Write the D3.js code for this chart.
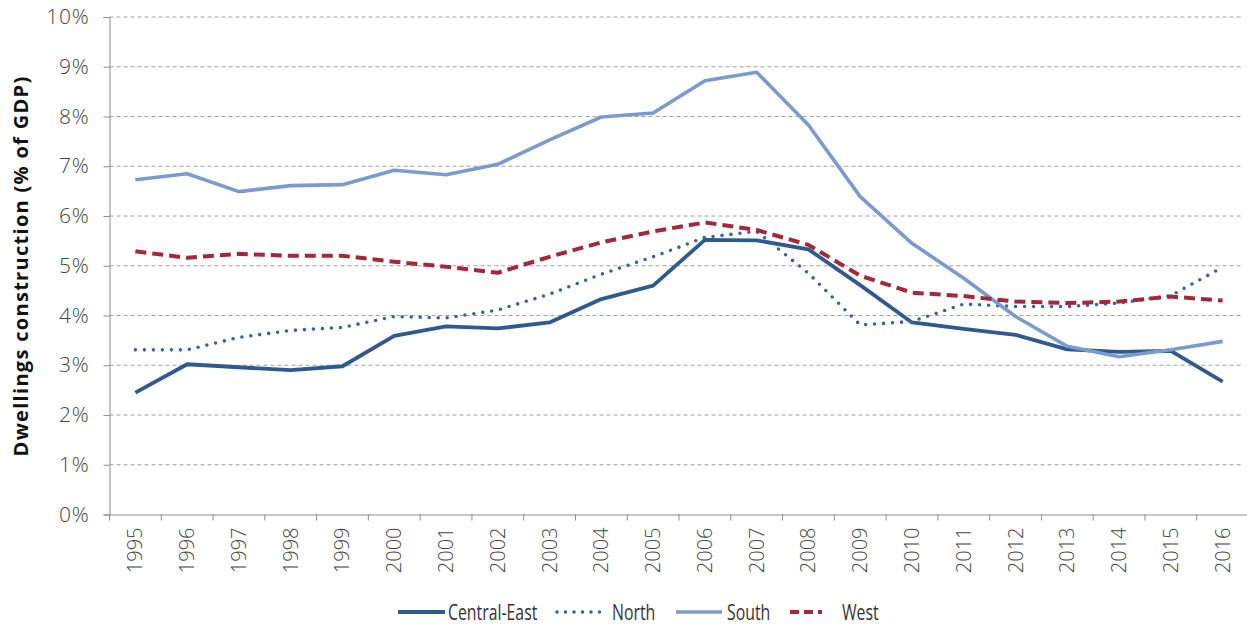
<!DOCTYPE html>
<html>
<head>
<meta charset="utf-8">
<script src="https://cdn.jsdelivr.net/npm/d3@7"></script>
<style>
  body { margin: 0; background: #fff; }
  text { font-family: "Open Sans", "Noto Sans", sans-serif; }
</style>
</head>
<body>
<div id="canvas"></div>
<script>
const years = ["1995","1996","1997","1998","1999","2000","2001","2002","2003","2004","2005",
               "2006","2007","2008","2009","2010","2011","2012","2013","2014","2015","2016"];

const centralEast = [2.45, 3.02, 2.96, 2.90, 2.98, 3.59, 3.78, 3.74, 3.86, 4.33, 4.60,
                     5.52, 5.51, 5.33, 4.61, 3.86, 3.73, 3.61, 3.32, 3.27, 3.29, 2.67];
const north       = [3.31, 3.31, 3.56, 3.70, 3.76, 3.98, 3.95, 4.11, 4.43, 4.83, 5.18,
                     5.57, 5.69, 4.85, 3.81, 3.88, 4.23, 4.18, 4.18, 4.25, 4.40, 4.97];
const south       = [6.73, 6.85, 6.49, 6.61, 6.63, 6.92, 6.83, 7.04, 7.53, 7.99, 8.07,
                     8.72, 8.89, 7.83, 6.39, 5.45, 4.75, 3.98, 3.38, 3.17, 3.31, 3.48];
const west        = [5.29, 5.16, 5.24, 5.20, 5.20, 5.08, 4.98, 4.86, 5.18, 5.47, 5.69,
                     5.87, 5.72, 5.42, 4.80, 4.46, 4.39, 4.28, 4.25, 4.28, 4.38, 4.30];

const yTicks = [0, 1, 2, 3, 4, 5, 6, 7, 8, 9, 10];

const series = [
  {name: "Central-East", values: centralEast, color: "#2f5a90", dash: null, width: 3.8, cap: "butt"},
  {name: "North", values: north, color: "#3a63a6", dash: "0,9", width: 3.6, cap: "round"},
  {name: "South", values: south, color: "#7b9bd0", dash: null, width: 3.6, cap: "butt"},
  {name: "West", values: west, color: "#a3283b", dash: "11,6", width: 4, cap: "butt"}
];

const width = 1247, height = 626;
const margin = {top: 17, left: 109.5, bottom: 111.5, right: 0};

const svg = d3.select("#canvas").append("svg")
  .attr("width", width).attr("height", height);

const x = d3.scaleBand().domain(years).range([margin.left, 1248.5]).padding(0);
const y = d3.scaleLinear().domain([0, 10]).range([height - margin.bottom, margin.top]);

// gridlines
svg.append("g").selectAll("line").data(yTicks.filter(d => d > 0)).enter().append("line")
  .attr("x1", margin.left).attr("x2", 1243)
  .attr("y1", d => y(d)).attr("y2", d => y(d))
  .attr("stroke", "#a0a0a0").attr("stroke-width", 1)
  .attr("stroke-dasharray", "4,3");

// y axis
const yAxis = svg.append("g")
  .attr("transform", `translate(${margin.left},0)`)
  .call(d3.axisLeft(y).tickValues(yTicks).tickFormat(d => d + "%").tickSize(6).tickPadding(14));
yAxis.select(".domain").attr("stroke", "#8c8c8c");
yAxis.selectAll(".tick line").attr("stroke", "#8c8c8c");
yAxis.selectAll(".tick text")
  .attr("font-size", 21).attr("fill", "#444").attr("font-weight", 300)
  .attr("letter-spacing", 0.8);

// x axis
const xAxis = svg.append("g")
  .attr("transform", `translate(0,${y(0)})`)
  .call(d3.axisBottom(x).tickSize(0).tickPadding(0));
xAxis.select(".domain").attr("stroke", "#8c8c8c");
xAxis.selectAll(".tick text")
  .attr("font-size", 20).attr("fill", "#444").attr("font-weight", 300)
  .attr("text-anchor", "end")
  .attr("transform", "rotate(-90)")
  .attr("x", -13).attr("y", 0).attr("dy", "0.35em");
svg.append("g").selectAll("line").data(years).enter().append("line")
  .attr("x1", d => x(d)).attr("x2", d => x(d))
  .attr("y1", y(0)).attr("y2", y(0) + 6)
  .attr("stroke", "#8c8c8c");

// lines
const line = d3.line()
  .x((d, i) => x(years[i]) + x.bandwidth() / 2)
  .y(d => y(d));

series.forEach(s => {
  svg.append("path")
    .datum(s.values)
    .attr("fill", "none")
    .attr("stroke", s.color)
    .attr("stroke-width", s.width)
    .attr("stroke-linecap", s.cap)
    .attr("stroke-linejoin", "round")
    .attr("stroke-dasharray", s.dash)
    .attr("d", line);
});

// y label
svg.append("text")
  .attr("transform", "rotate(-90)")
  .attr("x", -266).attr("y", 28)
  .attr("text-anchor", "middle")
  .attr("font-size", 20).attr("font-weight", "bold").attr("fill", "#111")
  .attr("letter-spacing", 1.3)
  .text("Dwellings construction (% of GDP)");

// legend (condensed look via horizontal scale)
const legendX = [398, 557, 676, 790];
const legendLen = [47, 43, 46, 32];
const legendText = [448, 612, 727, 842];
const legend = svg.append("g");
series.forEach((s, i) => {
  legend.append("line")
    .attr("x1", legendX[i]).attr("x2", legendX[i] + legendLen[i])
    .attr("y1", 612).attr("y2", 612)
    .attr("stroke", s.color).attr("stroke-width", s.width)
    .attr("stroke-linecap", s.cap)
    .attr("stroke-dasharray", s.dash === "0,9" ? "0,8.5" : (s.dash ? "9,5" : null));
  legend.append("text")
    .attr("transform", `translate(${legendText[i]},612) scale(0.72,1)`)
    .attr("dy", "0.36em")
    .attr("font-size", 22).attr("fill", "#333")
    .text(s.name);
});
</script>
</body>
</html>
